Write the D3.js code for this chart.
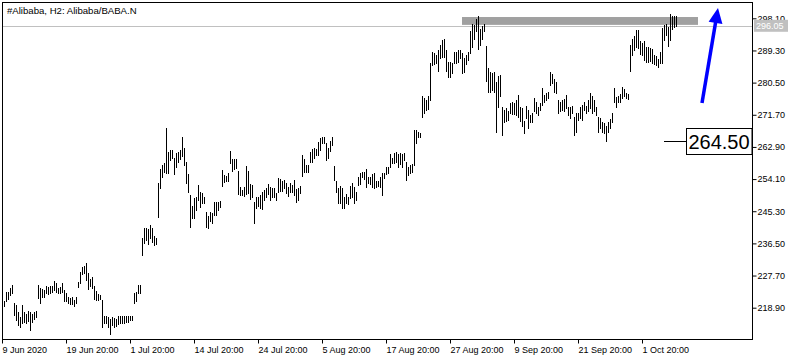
<!DOCTYPE html>
<html>
<head>
<meta charset="utf-8">
<script src="https://cdn.jsdelivr.net/npm/d3@7"></script>
<style>
  body { margin: 0; background: #fff; }
  svg { display: block; }
  text { font-family: "Liberation Sans", Arial, sans-serif; fill: #000; }
</style>
</head>
<body>
<div id="chart"></div>
<script>
// H2 bars (high / low per bar)
const highs = [
  220.7,223.1,223.3,224.4,225.1,220.3,219.7,217.8,216.3,219.6,
  217.8,217.2,218.0,217.8,217.2,217.7,218.0,225.1,224.4,223.9,
  223.8,224.8,224.5,224.8,224.8,226.2,225.6,224.4,224.7,225.6,
  223.8,222.8,221.9,221.5,221.9,221.0,221.7,226.0,228.6,230.1,
  230.3,231.1,228.5,226.7,227.4,224.8,223.5,222.7,222.4,221.0,
  216.5,216.5,216.3,215.8,216.3,216.0,215.7,216.5,216.5,216.5,
  216.5,216.6,216.6,216.6,216.6,222.8,223.3,225.1,225.1,
  237.9,240.8,240.6,240.4,241.5,240.6,238.4,237.9,253.1,256.8,
  258.0,258.6,268.0,261.6,262.1,262.1,259.8,261.2,261.4,262.1,
  265.5,262.5,258.9,255.5,249.8,246.7,248.8,249.3,252.5,
  250.7,250.2,249.1,245.2,244.0,245.2,244.7,247.9,247.9,247.9,
  248.1,256.6,255.2,255.0,255.7,261.9,259.6,259.6,259.6,256.4,
  251.9,251.1,251.9,257.7,256.4,252.8,252.5,247.9,249.1,249.1,
  249.8,250.7,251.1,251.6,252.8,251.9,251.6,251.6,250.2,254.3,
  254.0,253.7,253.9,253.1,251.9,252.9,252.5,253.9,251.3,251.6,
  252.2,260.7,259.5,258.0,258.0,261.6,262.2,262.5,262.2,264.3,
  265.3,265.7,265.7,263.9,262.5,264.5,265.5,257.7,253.7,251.6,
  252.2,251.6,249.3,250.0,249.3,252.2,252.9,251.9,250.7,254.6,
  255.9,256.1,256.1,256.8,254.8,254.6,255.5,255.9,253.7,253.7,
  254.6,255.9,255.9,257.5,257.3,261.0,259.8,261.3,261.6,261.0,
  261.2,261.0,261.3,258.9,257.5,258.0,258.2,267.5,267.4,267.1,266.6,
  276.7,276.2,275.8,276.7,285.8,289.0,288.5,288.1,289.4,290.8,
  292.2,292.4,289.3,286.2,286.2,285.8,289.0,289.0,289.4,289.4,
  288.5,287.2,288.1,289.0,294.5,296.5,296.3,297.8,298.7,295.1,
  296.0,296.5,290.5,284.4,283.5,283.2,283.5,280.8,282.3,282.6,
  273.8,273.0,273.5,272.6,274.8,275.3,275.0,275.8,277.1,273.9,
  273.5,270.1,274.1,273.0,271.7,272.1,276.2,275.3,273.9,274.8,
  278.9,277.1,277.6,278.0,283.5,282.9,281.4,280.8,275.8,275.3,
  275.8,275.9,277.1,273.9,273.8,274.1,271.2,272.1,272.1,273.9,
  274.4,275.3,274.1,275.8,277.6,276.7,275.8,273.9,271.2,
  270.7,269.8,269.4,268.6,269.8,270.5,272.1,278.9,276.5,276.7,
  277.4,279.2,278.7,277.6,277.4,290.8,292.4,293.3,294.9,294.9,
  292.0,291.4,292.0,290.2,290.2,289.9,289.6,288.1,287.8,286.9,
  289.0,295.4,296.3,296.5,295.6,299.3,298.7,298.7,298.7
];
const lows = [
  219.5,220.6,221.2,222.4,223.0,216.9,215.4,214.2,213.5,214.6,
  215.1,214.6,215.3,212.8,215.1,215.8,216.3,221.5,220.1,221.9,
  221.7,222.8,222.6,222.8,223.2,223.8,223.1,223.0,222.8,223.1,
  220.8,220.7,220.3,219.9,219.9,219.5,220.1,224.5,225.6,228.0,
  228.3,226.5,224.1,224.8,224.2,221.2,221.0,221.0,221.2,213.5,
  214.6,214.6,213.7,211.7,214.2,213.5,213.9,214.5,214.6,214.8,
  214.8,215.1,215.1,215.4,215.5,220.1,220.6,222.8,223.0,
  233.3,236.5,237.4,236.3,237.9,237.0,236.1,236.3,243.8,251.6,
  254.8,256.1,255.9,255.9,259.3,259.8,255.5,257.5,258.9,259.5,
  260.4,258.0,253.1,250.7,241.1,243.4,243.4,245.6,248.4,
  246.4,247.5,247.5,241.1,240.6,242.7,242.2,244.3,244.3,245.6,
  246.4,252.2,253.4,253.7,253.7,258.4,256.4,256.8,257.0,250.0,
  249.8,249.8,249.5,250.0,250.2,248.6,249.1,242.0,246.1,246.6,
  246.1,245.8,248.4,249.3,250.0,248.4,249.1,249.3,248.4,250.7,
  250.9,250.9,251.6,250.2,249.5,250.7,250.7,249.8,247.9,248.4,
  250.4,255.0,256.1,256.1,256.1,258.9,258.9,259.8,260.7,260.7,
  262.1,263.9,264.1,259.3,259.8,261.9,263.4,253.9,250.7,247.5,
  247.5,246.1,246.1,247.5,247.3,248.8,249.3,247.5,248.4,252.5,
  252.8,254.6,254.0,251.9,252.9,252.8,251.9,251.6,252.0,252.2,
  252.0,249.8,254.3,255.5,255.9,257.5,258.4,258.6,258.9,257.5,
  258.2,257.3,259.3,253.9,255.2,255.7,256.1,258.0,264.1,265.7,265.5,
  271.2,272.1,273.0,273.2,275.8,285.3,285.6,285.8,283.8,287.2,
  287.4,287.6,283.8,282.1,282.0,283.1,285.8,285.8,286.2,287.2,
  283.2,283.5,285.6,286.7,288.7,290.2,292.4,294.7,289.6,290.8,
  292.4,294.7,281.0,277.8,278.0,278.5,277.8,267.1,273.9,276.7,
  266.2,269.6,270.1,270.3,272.1,271.9,271.9,271.7,271.2,270.1,
  268.5,266.6,270.7,268.0,269.6,269.8,272.6,272.1,271.7,273.0,
  274.4,275.3,275.8,276.2,279.9,280.3,278.0,277.6,272.1,272.6,
  273.0,272.6,273.5,271.7,270.7,272.1,266.2,267.1,270.3,270.7,
  270.3,273.0,272.1,272.6,273.5,272.3,272.6,271.7,267.1,
  268.0,267.1,266.6,264.4,267.1,268.0,269.6,275.3,273.9,275.3,
  275.3,276.2,276.7,276.2,275.9,283.8,288.1,289.4,290.3,289.9,
  288.3,288.1,286.7,286.2,286.2,286.5,286.0,285.6,285.3,284.9,
  286.0,285.8,292.2,293.5,290.5,292.2,295.1,295.6,296.0
];

const priceTicks = [298.10, 289.30, 280.50, 271.70, 262.90, 254.10, 245.30, 236.50, 227.70, 218.90];
const timeTickBars = [-1, 31, 63, 95, 127, 159, 191, 223, 255, 287, 319];
const timeTickLabels = ['9 Jun 2020', '19 Jun 20:00', '1 Jul 20:00', '14 Jul 20:00', '24 Jul 20:00',
  '5 Aug 20:00', '17 Aug 20:00', '27 Aug 20:00', '9 Sep 20:00', '21 Sep 20:00', '1 Oct 20:00'];

const lastPrice = 296.05;
const markLevel = 264.50;
const zoneBars = [229, 347];
const zonePrices = [296.3, 298.45];
const arrowFrom = [349, 274.9];
const arrowTo = [357, 300.9];

const width = 799, height = 360;
const plot = { left: 2, top: 2, right: 752, bottom: 339 };

const svg = d3.select('#chart').append('svg')
  .attr('width', width)
  .attr('height', height);

const x = d3.scaleLinear().domain([0, highs.length - 1]).range([4, 676]);
const y = d3.scaleLinear().domain([218.9, 298.1]).range([307.7, 18.3]);
const px = (v) => Math.round(v) + 0.5;

// resistance zone (behind bars)
svg.append('rect')
  .attr('x', x(zoneBars[0]))
  .attr('width', x(zoneBars[1]) - x(zoneBars[0]))
  .attr('y', y(zonePrices[1]))
  .attr('height', y(zonePrices[0]) - y(zonePrices[1]))
  .attr('fill', '#a0a0a0');

// last price line
svg.append('line')
  .attr('x1', plot.left).attr('x2', plot.right)
  .attr('y1', px(y(lastPrice))).attr('y2', px(y(lastPrice)))
  .attr('stroke', '#c0c0c0');

// bars
svg.append('g')
  .selectAll('line')
  .data(highs.map((h, i) => ({ i, h, l: lows[i] })))
  .join('line')
  .attr('x1', (d) => px(x(d.i)))
  .attr('x2', (d) => px(x(d.i)))
  .attr('y1', (d) => Math.round(y(d.h)))
  .attr('y2', (d) => Math.round(y(d.l)) + 1)
  .attr('stroke', '#000')
  .attr('stroke-width', 1);

// frame
svg.append('rect')
  .attr('x', plot.left + 0.5).attr('y', plot.top + 0.5)
  .attr('width', plot.right - plot.left).attr('height', plot.bottom - plot.top)
  .attr('fill', 'none').attr('stroke', '#000');

// price axis
const yAxis = svg.append('g')
  .attr('transform', `translate(${plot.right + 0.5},0)`)
  .call(d3.axisRight(y).tickValues(priceTicks).tickFormat(d3.format('.2f')).tickSize(4).tickPadding(1));
yAxis.select('.domain').remove();
yAxis.selectAll('line').attr('stroke', '#000');
yAxis.selectAll('text').attr('font-size', 9).attr('font-family', '"Liberation Sans", Arial, sans-serif');

// time axis
const tAxis = svg.append('g')
  .attr('transform', `translate(0,${plot.bottom + 0.5})`)
  .call(d3.axisBottom(x).tickValues(timeTickBars)
    .tickFormat((d, i) => timeTickLabels[i]).tickSize(4).tickPadding(3));
tAxis.select('.domain').remove();
tAxis.selectAll('line').attr('stroke', '#000');
tAxis.selectAll('text')
  .attr('text-anchor', 'start')
  .attr('dx', 0)
  .attr('font-size', 9)
  .attr('font-family', '"Liberation Sans", Arial, sans-serif');
tAxis.selectAll('.tick').attr('transform', (d) => `translate(${px(x(d))},0)`);

// last price tag
const tagY = y(lastPrice);
svg.append('rect')
  .attr('x', 754).attr('y', tagY - 6)
  .attr('width', 34).attr('height', 12)
  .attr('fill', '#c0c0c0');
svg.append('text')
  .attr('x', 756).attr('y', tagY + 3.5)
  .attr('font-size', 9)
  .style('fill', '#fff')
  .text(d3.format('.2f')(lastPrice));

// level marker
const lvY = px(y(markLevel));
svg.append('line')
  .attr('x1', 664).attr('x2', 686)
  .attr('y1', lvY).attr('y2', lvY)
  .attr('stroke', '#000');
svg.append('rect')
  .attr('x', 686.5).attr('y', lvY - 13)
  .attr('width', plot.right - 686.5).attr('height', 26)
  .attr('fill', '#fff').attr('stroke', '#000');
svg.append('text')
  .attr('x', 719).attr('y', lvY + 7)
  .attr('text-anchor', 'middle')
  .attr('font-size', 20)
  .text(d3.format('.2f')(markLevel));

// blue arrow
const ax0 = x(arrowFrom[0]), ay0 = y(arrowFrom[1]);
const ax1 = x(arrowTo[0]), ay1 = y(arrowTo[1]);
const len = Math.hypot(ax1 - ax0, ay1 - ay0);
const ux = (ax1 - ax0) / len, uy = (ay1 - ay0) / len;
const headLen = 15, headHalf = 7;
const bx = ax1 - ux * headLen, by = ay1 - uy * headLen;
svg.append('line')
  .attr('x1', ax0).attr('y1', ay0)
  .attr('x2', bx + ux * 2).attr('y2', by + uy * 2)
  .attr('stroke', '#0000ff').attr('stroke-width', 3.5);
svg.append('path')
  .attr('d', `M${ax1},${ay1}L${bx - uy * headHalf},${by + ux * headHalf}L${bx + uy * headHalf},${by - ux * headHalf}Z`)
  .attr('fill', '#0000ff');

// title
svg.append('text')
  .attr('x', 7).attr('y', 14)
  .attr('font-size', 9.6)
  .text('#Alibaba, H2:  Alibaba/BABA.N');
</script>
</body>
</html>
